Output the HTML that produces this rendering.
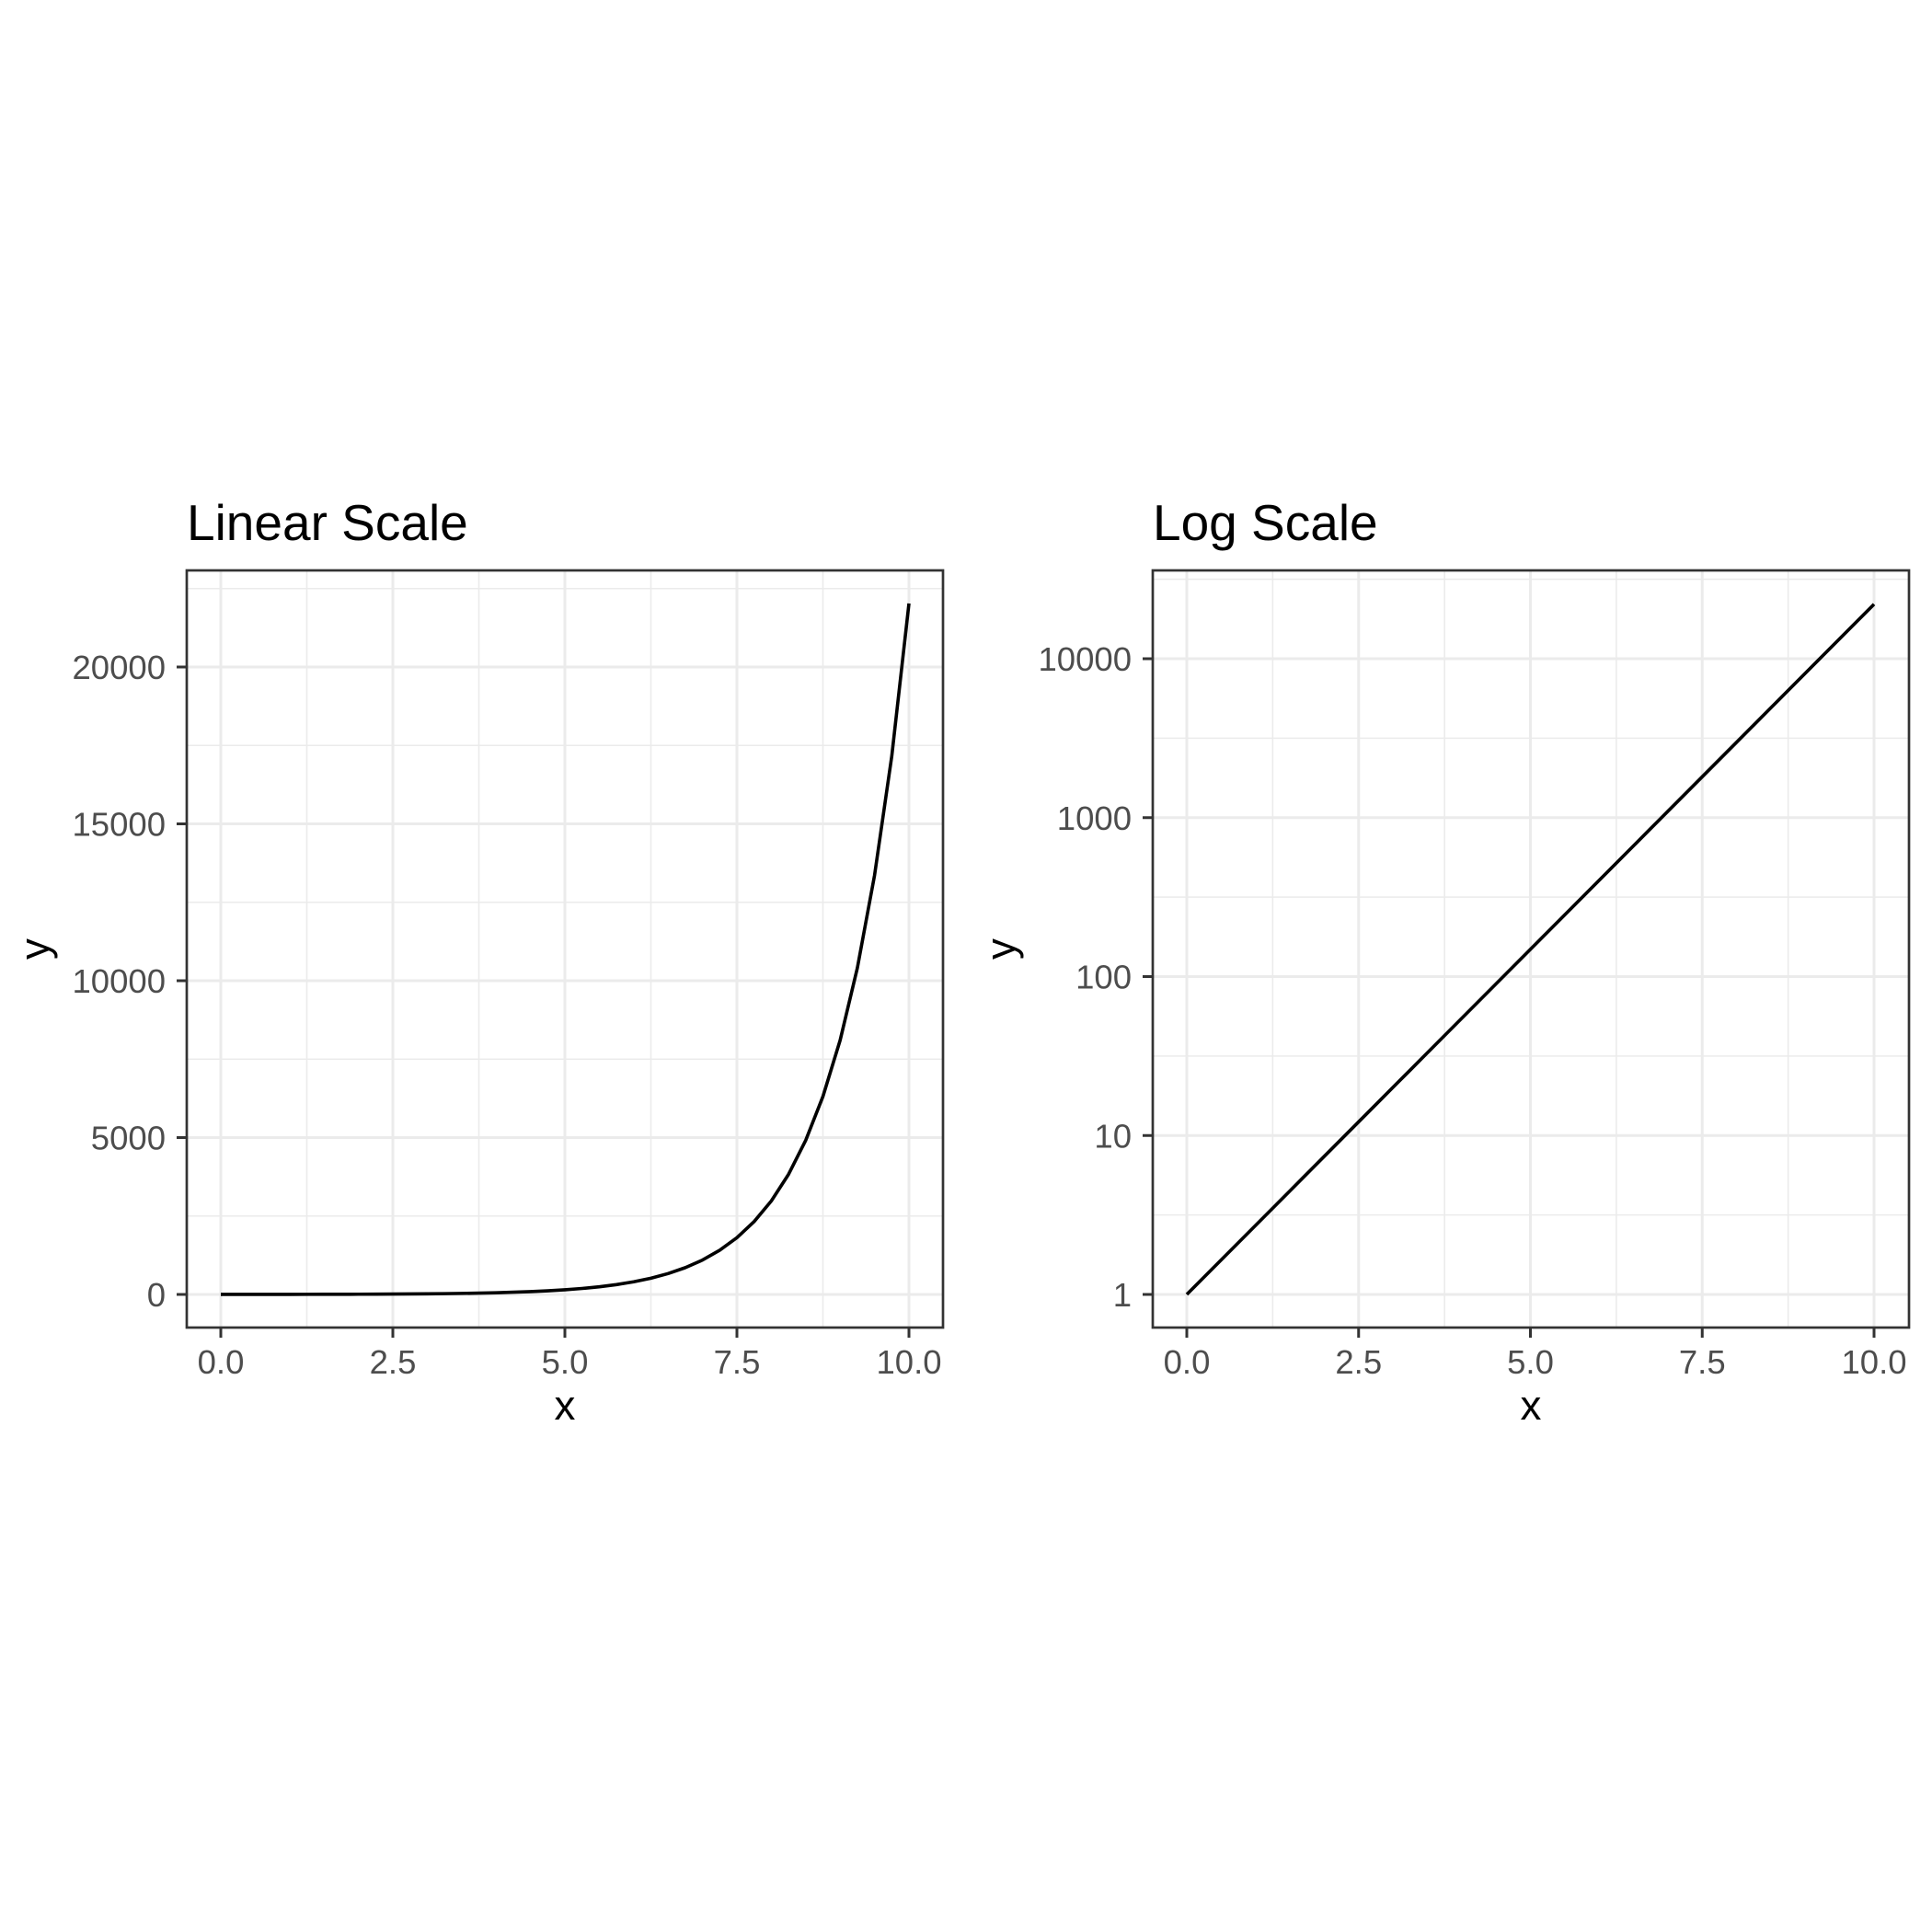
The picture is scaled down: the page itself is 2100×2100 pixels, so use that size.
<!DOCTYPE html>
<html><head><meta charset="utf-8"><style>
html,body{margin:0;padding:0;background:#fff;}
svg{display:block;font-family:"Liberation Sans",Arial,sans-serif;}
</style></head><body>
<svg id="chart" width="2100" height="2100" viewBox="0 0 2100 2100" xmlns="http://www.w3.org/2000/svg">
<rect width="2100" height="2100" fill="#fff"/>
</svg>
<script>
const xValues=[0,0.25,0.5,0.75,1,1.25,1.5,1.75,2,2.25,2.5,2.75,3,3.25,3.5,3.75,4,4.25,4.5,4.75,5,5.25,5.5,5.75,6,6.25,6.5,6.75,7,7.25,7.5,7.75,8,8.25,8.5,8.75,9,9.25,9.5,9.75,10];
const yValues=[1,1.284,1.649,2.117,2.718,3.49,4.482,5.755,7.389,9.488,12.18,15.64,20.09,25.79,33.12,42.52,54.6,70.11,90.02,115.6,148.4,190.6,244.7,314.2,403.4,518,665.1,854.1,1096.6,1408.1,1808,2321.6,2981,3827.6,4914.8,6310.7,8103.1,10404.6,13359.7,17154.2,22026.5];
const xTicks=[0,2.5,5,7.5,10];
const xTickLabels=["0.0","2.5","5.0","7.5","10.0"];
const xMinor=[1.25,3.75,6.25,8.75];
const linTicks=[0,5000,10000,15000,20000];
const linTickLabels=["0","5000","10000","15000","20000"];
const linMinor=[2500,7500,12500,17500,22500];
const logTicks=[1,10,100,1000,10000];
const logTickLabels=["1","10","100","1000","10000"];
const logMinor=[0.5,1.5,2.5,3.5,4.5];

const NS="http://www.w3.org/2000/svg";
const svg=document.getElementById('chart');
function mk(tag,attrs,parent){const e=document.createElementNS(NS,tag);for(const k in attrs)e.setAttribute(k,attrs[k]);(parent||svg).appendChild(e);return e;}

function panel(opt){
  const g=mk('g',{});
  
  
  const L=opt.left,R=opt.left+822,T=620,B=1443;
  const sx=v=>opt.x0+(v-0)*(opt.x10-opt.x0)/10;
  const sy=opt.sy;
  mk('rect',{x:L,y:T,width:R-L,height:B-T,fill:'#fff'},g);
  // minor grid
  xMinor.forEach(v=>{const l=mk('line',{x1:sx(v),x2:sx(v),y1:T,y2:B,stroke:'#ebebeb','stroke-width':1.6},g);
    });
  opt.yMinor.forEach(v=>{const y=opt.syMinor(v);if(y<T||y>B)return;const l=mk('line',{x1:L,x2:R,y1:y,y2:y,stroke:'#ebebeb','stroke-width':1.6},g);
    });
  xTicks.forEach(v=>{const l=mk('line',{x1:sx(v),x2:sx(v),y1:T,y2:B,stroke:'#ebebeb','stroke-width':3},g);
    });
  opt.yTicks.forEach(v=>{const l=mk('line',{x1:L,x2:R,y1:sy(v),y2:sy(v),stroke:'#ebebeb','stroke-width':3},g);
    });
  // line
  const pts=xValues.map((x,i)=>sx(x).toFixed(2)+','+sy(yValues[i]).toFixed(2)).join(' ');
  const pl=mk('polyline',{points:pts,fill:'none',stroke:'#000','stroke-width':3.6,'stroke-linejoin':'round'},g);
  
  
  const br=mk('rect',{x:L,y:T,width:R-L,height:B-T,fill:'none',stroke:'#333','stroke-width':2.7},g);
  
  
  // x ticks
  xTicks.forEach((v,i)=>{
    mk('line',{x1:sx(v),x2:sx(v),y1:B,y2:B+11,stroke:'#333','stroke-width':3},g);
    const t=mk('text',{x:sx(v),y:1493,'text-anchor':'middle','font-size':36.5,fill:'#4d4d4d'},g);
    t.textContent=xTickLabels[i];
    
    
  });
  opt.yTicks.forEach((v,i)=>{
    mk('line',{x1:L-11,x2:L,y1:sy(v),y2:sy(v),stroke:'#333','stroke-width':3},g);
    const t=mk('text',{x:L-23,y:sy(v)+13,'text-anchor':'end','font-size':36.5,fill:'#4d4d4d'},g);
    t.textContent=opt.yLabels[i];
    
    
  });
  const xt=mk('text',{x:(L+R)/2,y:1543,'text-anchor':'middle','font-size':45.8,fill:'#000'},g);
  xt.textContent='x';
  
  
  const cy=(T+B)/2, cx=L-150;
  const yt=mk('text',{x:cx,y:cy,'text-anchor':'middle','font-size':45.8,fill:'#000',transform:'rotate(-90 '+cx+' '+cy+')'},g);
  yt.textContent='y';
  
  
  const tt=mk('text',{x:L,y:587,'font-size':55,fill:'#000'},g);
  tt.textContent=opt.title;
  
  
}

const lin=v=>1407+(v-0)*(725-1407)/20000;
panel({name:'linear-scale-panel',title:'Linear Scale',left:203,x0:240,x10:988,sy:lin,syMinor:lin,
  yTicks:linTicks,yLabels:linTickLabels,yMinor:linMinor});
const logs=v=>1407-Math.log10(v)*172.75;
panel({name:'log-scale-panel',title:'Log Scale',left:1253,x0:1290,x10:2037,sy:logs,syMinor:e=>1407-e*172.75,
  yTicks:logTicks,yLabels:logTickLabels,yMinor:logMinor});
</script>
</body></html>
